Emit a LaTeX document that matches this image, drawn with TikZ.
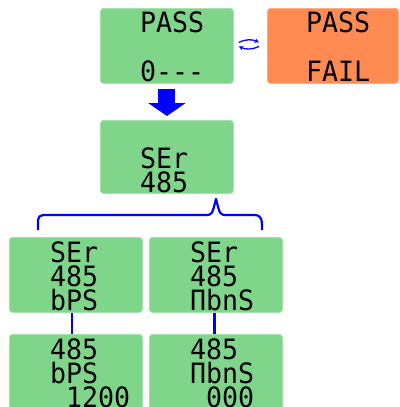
\documentclass[tikz,border=0pt]{standalone}
\usepackage{fontspec}
\usetikzlibrary{arrows.meta}
\newfontfamily\lcdfont{DejaVu Sans Mono}[FakeStretch=0.95]
\definecolor{lcdgreen}{RGB}{127,214,139}
\definecolor{lcdorange}{RGB}{255,139,82}
\tikzset{
	lcdbox/.style = {fill = #1, draw = #1!70!white, line width = 0.8pt, rounded corners = 3pt,
		minimum width = 133pt, minimum height = 75pt, anchor = north west, inner sep = 0pt},
	lcdbox/.default = lcdgreen,
	lcdtext/.style = {font = \fontsize{28}{28}\lcdfont, inner sep = 0pt, anchor = base west},
	link/.style = {draw = blue, line width = 2.2pt},
	swap/.style = {->, blue, line width = 1.3pt}
}
\begin{document}
\begin{tikzpicture}[x=1pt,y=-1pt,line join=round,>={Stealth[length=4.5pt,width=4.5pt]}]
	\clip (0,0) rectangle (399,407);
	% Anzeigen
	\node [lcdbox] (pass) at (100,8) {};
	\node [lcdbox = lcdorange, minimum width = 131pt] (fail) at (267,8) {};
	\node [lcdbox, minimum height = 73pt] (ser) at (100,120) {};
	\node [lcdbox] (bps) at (9,237) {};
	\node [lcdbox] (mbns) at (149,237) {};
	\node [lcdbox] (bpsval) at (9,334) {};
	\node [lcdbox] (mbnsval) at (149,334) {};
	% Texte
	\node [lcdtext] (pass-a) at (140,32) {PASS};
	\node [lcdtext] (pass-b) at (140,81) {0---};
	\node [lcdtext] (fail-a) at (306,32) {PASS};
	\node [lcdtext] (fail-b) at (306,81) {FAIL};
	\node [lcdtext] (ser-a) at (140,168) {SEr};
	\node [lcdtext] (ser-b) at (140,192) {485};
	\node [lcdtext] (bps-a) at (50,262) {SEr};
	\node [lcdtext] (bps-b) at (50,286) {485};
	\node [lcdtext] (bps-c) at (50,310) {bPS};
	\node [lcdtext] (mbns-a) at (190,262) {SEr};
	\node [lcdtext] (mbns-b) at (190,286) {485};
	\node [lcdtext] (mbns-c) at (190,310) {ΠbnS};
	\node [lcdtext] (bpsval-a) at (50,359) {485};
	\node [lcdtext] (bpsval-b) at (50,383) {bPS};
	\node [lcdtext] (bpsval-c) at (66,407) {1200};
	\node [lcdtext] (mbnsval-a) at (190,359) {485};
	\node [lcdtext] (mbnsval-b) at (190,383) {ΠbnS};
	\node [lcdtext] (mbnsval-c) at (206,407) {000};
	% Wechsel PASS / FAIL
	\draw [swap] ([xshift=5pt,yshift=3.5pt]pass.east) to [bend left = 25] ([xshift=-8pt,yshift=3.5pt]fail.west);
	\draw [swap] ([xshift=-8pt,yshift=-0.5pt]fail.west) to [bend left = 25] ([xshift=5pt,yshift=-0.5pt]pass.east);
	% Pfeil nach unten
	\draw [-{Triangle[width=37pt,length=13pt]}, blue, line width = 17pt] ([yshift=-5pt]pass.south) -- ([yshift=4pt]ser.north);
	% Klammer
	\coordinate (tip) at (216,199);
	\draw [link] (38,230) -- (38,220) arc (180:270:5) -- (205,215) .. controls (212,215) .. (tip) .. controls (220,215) .. (227,215) -- (254,215) .. controls (262,215) and (262,220) .. (262,230);
	% Verbindungen
	\draw [link] ([xshift=-4pt]bps.south) -- ([xshift=-4pt]bpsval.north);
	\draw [link] ([xshift=-1.5pt]mbns.south) -- ([xshift=-1.5pt]mbnsval.north);
\end{tikzpicture}
\end{document}
